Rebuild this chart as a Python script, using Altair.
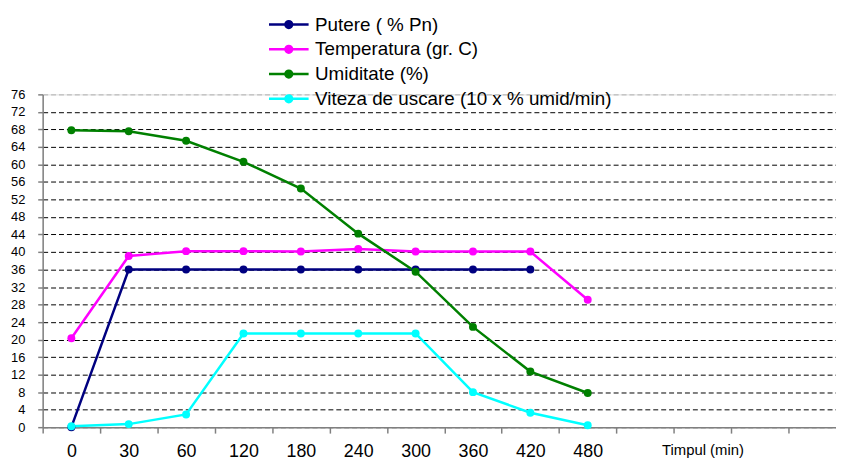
import altair as alt
import pandas as pd

# ---- data ----
categories = ["0", "30", "60", "120", "180", "240", "300", "360", "420", "480"]
extra_slots = [" ", "Timpul (min)", "  ", "   "]
series_names = ["Putere ( % Pn)", "Temperatura (gr. C)", "Umiditate (%)",
                "Viteza de uscare (10 x % umid/min)"]
series_colors = ["#000080", "#FF00FF", "#008000", "#00FFFF"]

putere = [0, 36.0, 36.0, 36.0, 36.0, 36.0, 36.0, 36.0, 36.0, None]
temperatura = [20.3, 39.1, 40.2, 40.2, 40.1, 40.7, 40.1, 40.1, 40.1, 29.1]
umiditate = [67.8, 67.6, 65.4, 60.6, 54.5, 44.2, 35.5, 22.9, 12.7, 7.8]
viteza = [0.2, 0.7, 2.9, 21.4, 21.4, 21.4, 21.4, 8.0, 3.3, 0.45]

y_ticks = list(range(0, 77, 4))

rows = []
for name, vals in zip(series_names, [putere, temperatura, umiditate, viteza]):
    for c, v in zip(categories, vals):
        if v is not None:
            rows.append({"timp": c, "serie": name, "valoare": v})
df = pd.DataFrame(rows)

font = "Liberation Sans"

x_enc = alt.X(
    "timp:N",
    sort=None,
    scale=alt.Scale(domain=categories + extra_slots, range=[0, 811],
                    paddingInner=0, paddingOuter=0),
    axis=alt.Axis(
        title=None, labelAngle=0, tickBand="extent", tickSize=6,
        tickColor="#808080", domainColor="#808080", domainWidth=1.5, tickWidth=1.5,
        labelFont=font, labelColor="black", labelPadding=10,
        labelFontSize={"condition": {"test": "datum.label == 'Timpul (min)'", "value": 15},
                       "value": 18},
        grid=False,
    ),
)
y_enc = alt.Y(
    "valoare:Q",
    scale=alt.Scale(domain=[0, 76], nice=False, zero=True),
    axis=alt.Axis(
        title=None, values=y_ticks, tickSize=5, tickColor="#808080",
        domainColor="#808080", domainWidth=1.5, tickWidth=1.5,
        labelFont=font, labelFontSize=13, labelColor="black", labelPadding=13,
        grid=True, gridDash=[5, 3], gridWidth=1,
        gridColor={"condition": {"test": "datum.value == 76", "value": "#b0b0b0"},
                   "value": "black"},
    ),
)
color_enc = alt.Color(
    "serie:N",
    sort=series_names,
    scale=alt.Scale(domain=series_names, range=series_colors),
    legend=alt.Legend(
        title=None, orient="none", legendX=227, legendY=-83, padding=0,
        symbolType="M-1,0H1M-0.17,0a0.17,0.17 0 1,0 0.34,0a0.17,0.17 0 1,0 -0.34,0Z",
        symbolSize=1600, symbolStrokeWidth=2.5,
        labelFont=font, labelFontSize=19, labelColor="black", labelOffset=5,
        clipHeight=25, rowPadding=0, labelLimit=500,
    ),
)

base = alt.Chart(df).encode(x=x_enc, y=y_enc, color=color_enc)
lines = base.mark_line(strokeWidth=2.5, point=alt.OverlayMarkDef(filled=True, size=64))

chart = lines.properties(
    width=801, height=336,
    padding={"left": 35, "top": 85, "right": 0, "bottom": 38},
    autosize=alt.AutoSizeParams(type="none"),
).configure_view(stroke=None).configure(background="white")

chart.save("out.html", embed_options={"renderer": "svg", "actions": False})
